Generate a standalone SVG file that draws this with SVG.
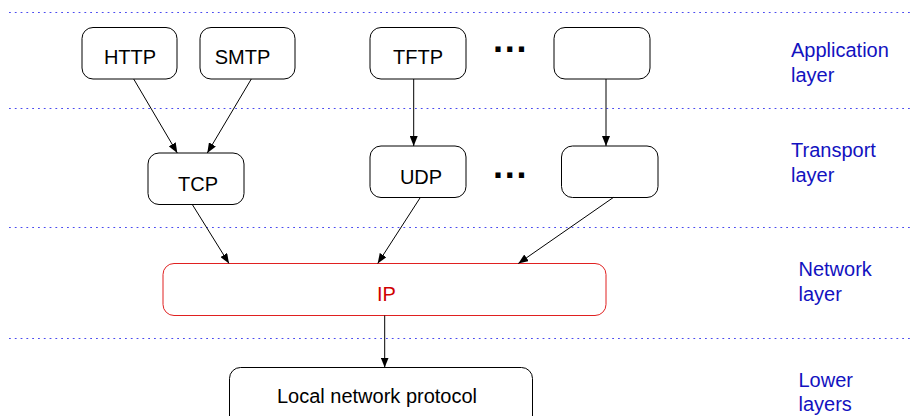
<svg xmlns="http://www.w3.org/2000/svg" width="911" height="416" viewBox="0 0 911 416">
<style>
.sep{stroke:#4a4af0;stroke-width:1.2;stroke-dasharray:1.8 4;fill:none}
.box{fill:#fff;stroke:#000;stroke-width:1}
.ip{fill:#fff;stroke:#e02020;stroke-width:1}
.t{font-family:"Liberation Sans",Arial,sans-serif;font-size:20px;fill:#000;text-anchor:middle}
.ipt{fill:#d00000}
.lab{font-family:"Liberation Sans",Arial,sans-serif;font-size:20px;fill:#1212c0}
.dots{font-family:"Liberation Sans",Arial,sans-serif;font-size:36px;font-weight:bold;fill:#000;letter-spacing:1.8px}
.c{stroke:#000;stroke-width:1;fill:none;marker-end:url(#ah)}
</style>
<defs>
<marker id="ah" viewBox="0 0 10 8" refX="10" refY="4" markerWidth="10" markerHeight="8" markerUnits="userSpaceOnUse" orient="auto">
<path d="M0,0 L10,4 L0,8 Z" fill="#000"/>
</marker>
</defs>
<rect width="911" height="416" fill="#fff"/>
<g id="separators">
<line class="sep" x1="9" y1="12.5" x2="911" y2="12.5"/>
<line class="sep" x1="9" y1="108.5" x2="911" y2="108.5"/>
<line class="sep" x1="9" y1="227.5" x2="911" y2="227.5"/>
<line class="sep" x1="9" y1="338.5" x2="911" y2="338.5"/>
</g>
<g id="http"><rect class="box" x="82" y="27.5" width="95" height="51.5" rx="11"/><text class="t" x="130" y="64">HTTP</text></g>
<g id="smtp"><rect class="box" x="200" y="27.5" width="95" height="51.5" rx="11"/><text class="t" x="242.5" y="64">SMTP</text></g>
<g id="tftp"><rect class="box" x="370" y="27.5" width="96" height="51.5" rx="11"/><text class="t" x="418" y="64">TFTP</text></g>
<g id="app-other"><rect class="box" x="554" y="27.5" width="96" height="51.5" rx="11"/></g>
<g id="app-dots"><text class="dots" x="493" y="52">...</text></g>
<g id="tcp"><rect class="box" x="148" y="153" width="96" height="51.5" rx="11"/><text class="t" x="198" y="191">TCP</text></g>
<g id="udp"><rect class="box" x="370" y="146" width="96" height="51.5" rx="11"/><text class="t" x="421" y="183.5">UDP</text></g>
<g id="trans-other"><rect class="box" x="561.5" y="146" width="96.5" height="51.5" rx="11"/></g>
<g id="trans-dots"><text class="dots" x="493" y="177.5">...</text></g>
<g id="ip"><rect class="ip" x="163" y="263.5" width="443" height="52" rx="11"/><text class="t ipt" x="386.5" y="301">IP</text></g>
<g id="local"><rect class="box" x="229.5" y="367.5" width="303" height="60" rx="11"/><text class="t" x="377" y="403">Local network protocol</text></g>
<g id="connectors">
<line class="c" x1="133.7" y1="79" x2="177.3" y2="153"/>
<line class="c" x1="251.3" y1="79" x2="207.3" y2="153"/>
<line class="c" x1="413.7" y1="79" x2="413.7" y2="146"/>
<line class="c" x1="606" y1="79" x2="606" y2="146"/>
<line class="c" x1="192.3" y1="204.5" x2="229" y2="263.5"/>
<line class="c" x1="420.3" y1="197.5" x2="377.7" y2="263.5"/>
<line class="c" x1="613.3" y1="197.5" x2="518.3" y2="263.5"/>
<line class="c" x1="384.7" y1="315.5" x2="384.7" y2="367.5"/>
</g>
<g id="labels">
<text class="lab" x="791" y="57">Application</text>
<text class="lab" x="791" y="82">layer</text>
<text class="lab" x="791" y="157">Transport</text>
<text class="lab" x="791" y="182">layer</text>
<text class="lab" x="798.5" y="276">Network</text>
<text class="lab" x="798.5" y="301">layer</text>
<text class="lab" x="798.5" y="387">Lower</text>
<text class="lab" x="798.5" y="411">layers</text>
</g>
</svg>
